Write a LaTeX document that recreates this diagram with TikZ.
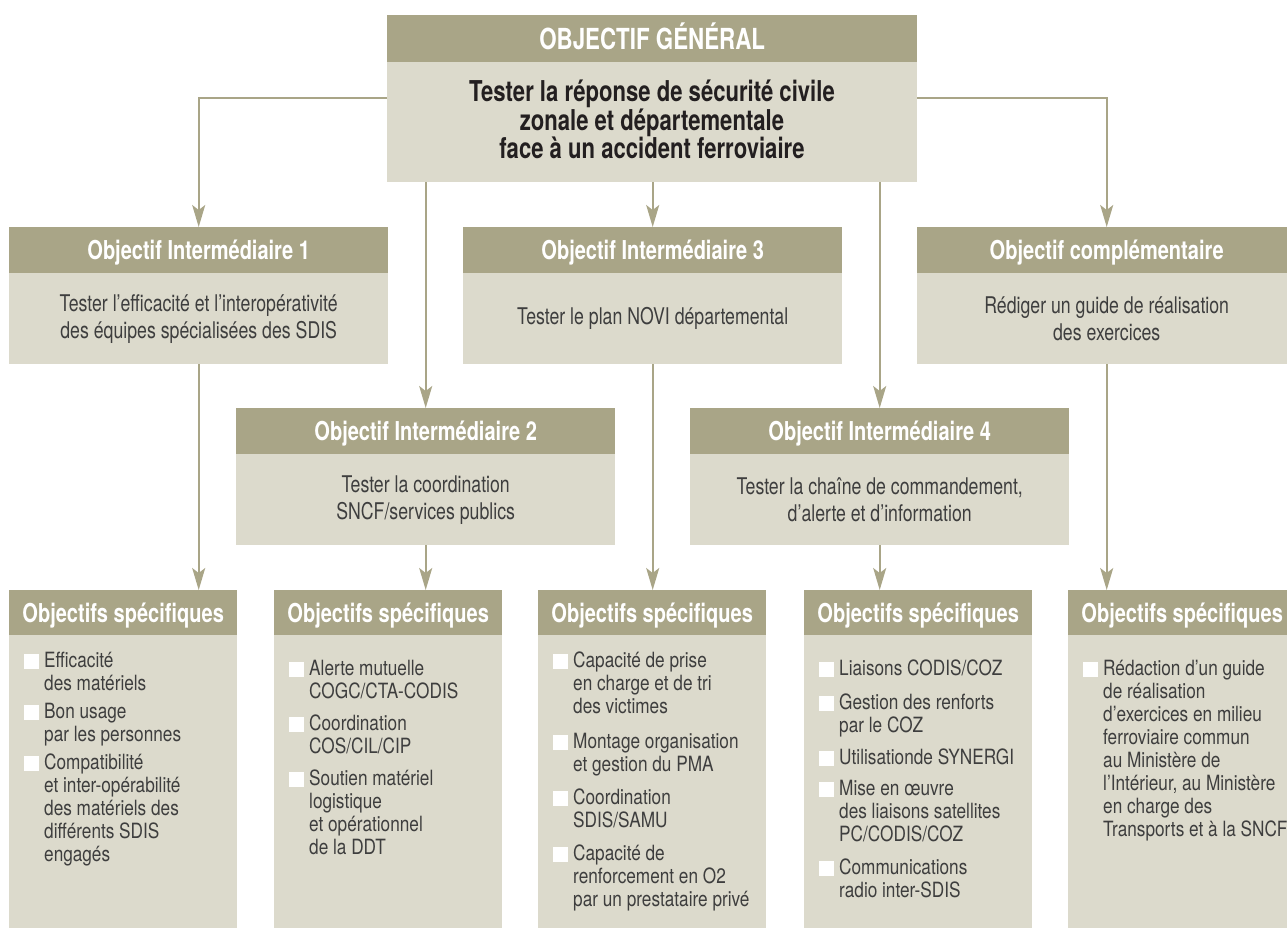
\documentclass[tikz,border=0pt]{standalone}
\usepackage{fontspec}
\setmainfont{TeX Gyre Heros}[FakeStretch=0.77]
\newfontfamily\itemfamily{TeX Gyre Heros}[FakeStretch=0.82]
\usetikzlibrary{arrows.meta}

\definecolor{khaki}{RGB}{169,165,135}
\definecolor{sand}{RGB}{220,218,204}
\definecolor{ink}{RGB}{62,62,62}
\definecolor{inkdark}{RGB}{35,31,32}

\tikzset{
  hdr/.style={fill=khaki, anchor=north west, inner sep=0pt, minimum width=#1,
    minimum height=46pt, text=white, font=\fontsize{26}{30}\selectfont\bfseries,
    text height=18.7pt, text depth=0pt},
  bodybox/.style={fill=sand, anchor=north west, inner sep=0pt, minimum width=#1,
    align=center, text=ink, font=\fontsize{23}{27}\selectfont},
  toptext/.style={anchor=north, inner sep=0pt, align=center, text=inkdark,
    font=\fontsize{28.7}{26}\selectfont\bfseries},
  itemtxt/.style={anchor=north west, inner sep=0pt, align=left, text=ink,
    font=\itemfamily\fontsize{21}{23}\selectfont, yshift=16.1pt},
  bsq/.style={fill=white, inner sep=0pt, minimum size=15pt, anchor=north east},
  arr/.style={draw=khaki, line width=1.6pt,
    -{Stealth[length=22pt, width=13pt, inset=5pt]}}
}

% one bullet line of a "specific objectives" column: name, x, first baseline, text
\newcommand\specitem[4]{%
  \node[itemtxt] (#1) at (#2,#3) {\strut #4};
  \node[bsq] (#1sq) at ([xshift=-5pt,yshift=-3pt]#1.north west) {};
}

\begin{document}
\begin{tikzpicture}[x=1pt,y=-1pt]
\useasboundingbox (0,0) rectangle (1287,938);

% general objective
\node[hdr=530, minimum height=47pt, font=\fontsize{29}{32}\selectfont\bfseries,
  text height=20.8pt] (topH) at (387,15) {OBJECTIF GÉNÉRAL};
\node[bodybox=530, minimum height=120pt] (topB) at (387,62) {};
\node[toptext] (topT) at (652,79)
  {\rule{0pt}{22pt}Tester la réponse de sécurité civile\\zonale et départementale\\face à un accident ferroviaire};

% intermediate objectives, first row
\node[hdr=379] (o1H) at (9,227) {Objectif Intermédiaire 1};
\node[bodybox=379, minimum height=91pt] (o1B) at (9,273)
  {Tester l’efficacité et l’interopérativité\\des équipes spécialisées des SDIS};
\node[hdr=379] (o3H) at (463,227) {Objectif Intermédiaire 3};
\node[bodybox=379, minimum height=91pt] (o3B) at (463,273)
  {Tester le plan NOVI départemental};
\node[hdr=379] (cH) at (917,227) {Objectif complémentaire};
\node[bodybox=379, minimum height=91pt] (cB) at (917,273)
  {Rédiger un guide de réalisation\\des exercices};

% intermediate objectives, second row
\node[hdr=379] (o2H) at (236,408) {Objectif Intermédiaire 2};
\node[bodybox=379, minimum height=91pt] (o2B) at (236,454)
  {Tester la coordination\\SNCF/services publics};
\node[hdr=379] (o4H) at (690,408) {Objectif Intermédiaire 4};
\node[bodybox=379, minimum height=91pt] (o4B) at (690,454)
  {Tester la chaîne de commandement,\\d’alerte et d’information};

% specific objectives columns
\foreach \n/\x in {1/9, 2/274, 3/538, 4/804, 5/1068}{
  \node[hdr=228, minimum height=45pt] (s\n H) at (\x,590) {Objectifs spécifiques};
  \node[bodybox=228, minimum height=293pt] (s\n B) at (\x,635) {};
}

\specitem{s1a}{44}{667}{Efficacité\\des matériels}
\specitem{s1b}{44}{718}{Bon usage\\par les personnes}
\specitem{s1c}{44}{769}{Compatibilité\\et inter-opérabilité\\des matériels des\\différents SDIS\\engagés}

\specitem{s2a}{309}{675}{Alerte mutuelle\\COGC/CTA-CODIS}
\specitem{s2b}{309}{730}{Coordination\\COS/CIL/CIP}
\specitem{s2c}{309}{785}{Soutien matériel\\logistique\\et opérationnel\\de la DDT}

\specitem{s3a}{573}{667}{Capacité de prise\\en charge et de tri\\des victimes}
\specitem{s3b}{573}{748}{Montage organisation\\et gestion du PMA}
\specitem{s3c}{573}{804}{Coordination\\SDIS/SAMU}
\specitem{s3d}{573}{860}{Capacité de\\renforcement en O2\\par un prestataire privé}

\specitem{s4a}{839}{675}{Liaisons CODIS/COZ}
\specitem{s4b}{839}{709}{Gestion des renforts\\par le COZ}
\specitem{s4c}{839}{764}{Utilisationde SYNERGI}
\specitem{s4d}{839}{795}{Mise en œuvre\\des liaisons satellites\\PC/CODIS/COZ}
\specitem{s4e}{839}{874}{Communications\\radio inter-SDIS}

\specitem{s5a}{1103}{675}{Rédaction d’un guide\\de réalisation\\d’exercices en milieu\\ferroviaire commun\\au Ministère de\\l’Intérieur, au Ministère\\en charge des\\Transports et à la SNCF}

% connectors
\coordinate (ya) at (0,98);
\draw[arr] (topB.west |- ya) -| (o1H.north);
\draw[arr] (topB.east |- ya) -| (cH.north);
\draw[arr] (o2H.north |- topB.south) -- (o2H.north);
\draw[arr] (o3H.north |- topB.south) -- (o3H.north);
\draw[arr] (o4H.north |- topB.south) -- (o4H.north);

\draw[arr] (o1B.south) -- (o1B.south |- s1H.north);
\draw[arr] (o2B.south) -- (o2B.south |- s2H.north);
\draw[arr] (o3B.south) -- (o3B.south |- s3H.north);
\draw[arr] (o4B.south) -- (o4B.south |- s4H.north);
\draw[arr] (cB.south) -- (cB.south |- s5H.north);
\end{tikzpicture}
\end{document}
